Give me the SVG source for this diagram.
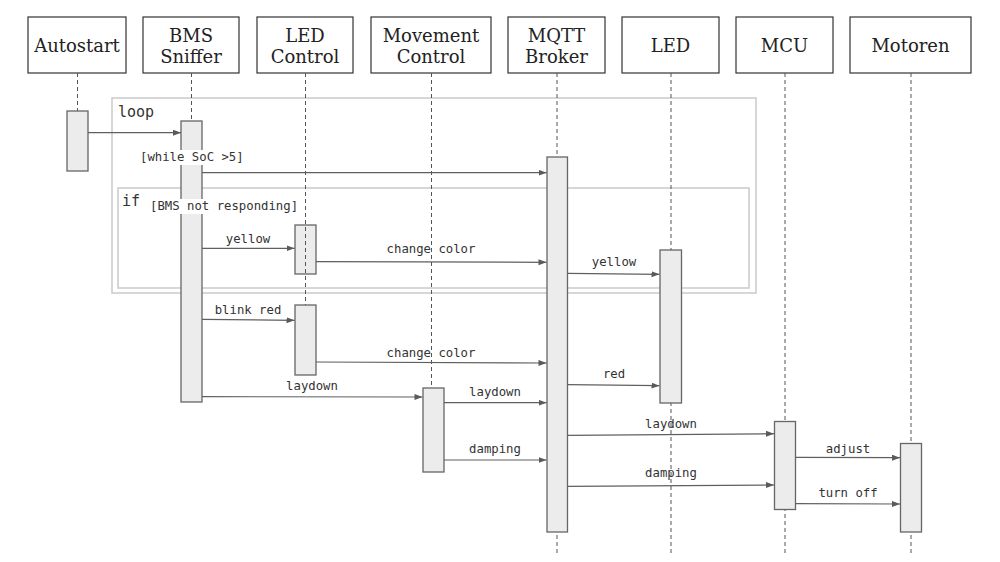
<svg xmlns="http://www.w3.org/2000/svg" width="1000" height="562" viewBox="0 0 1000 562">
<defs>
<marker id="arr" markerWidth="9" markerHeight="7" refX="8" refY="3" orient="auto" markerUnits="userSpaceOnUse">
<path d="M0,0 L8,3 L0,6 z" fill="#5a5a5a"/>
</marker>
<style>
.hdr{fill:#fff;stroke:#333;stroke-width:1.2}
.ht{font-family:"DejaVu Serif","Liberation Serif",serif;font-size:18px;fill:#222;text-anchor:middle}
.life{stroke:#555;stroke-width:1;stroke-dasharray:4 3;fill:none}
.bar{fill:#ececec;stroke:#666;stroke-width:1.3}
.frame{fill:none;stroke:#cdcdcd;stroke-width:1.6}
.fl{font-family:"DejaVu Sans Mono","Liberation Mono",monospace;font-size:15px;fill:#333}
.gd{font-family:"DejaVu Sans Mono","Liberation Mono",monospace;font-size:12.3px;fill:#333}
.msg{stroke:#5f5f5f;stroke-width:1.2;fill:none;marker-end:url(#arr)}
.ml{font-family:"DejaVu Sans Mono","Liberation Mono",monospace;font-size:12.3px;fill:#333;text-anchor:middle}
</style>
</defs>
<rect width="1000" height="562" fill="#fff"/>

<g id="frame-loop">
<rect class="frame" x="112" y="98" width="644" height="195"/>
<text class="fl" x="118" y="117">loop</text>
</g>
<g id="frame-if">
<rect class="frame" x="118" y="188" width="631" height="100"/>
<text class="fl" x="122" y="206">if</text>
</g>

<g id="autostart">
<rect class="hdr" x="28" y="17" width="98" height="56"/>
<text class="ht" x="77" y="52">Autostart</text>
<line class="life" x1="77.5" y1="73" x2="77.5" y2="111"/>
<rect class="bar" x="67" y="111" width="21" height="60"/>
</g>

<g id="bms-sniffer">
<rect class="hdr" x="143" y="17" width="96" height="56"/>
<text class="ht" x="191" y="42">BMS</text>
<text class="ht" x="191" y="63">Sniffer</text>
<line class="life" x1="191.5" y1="73" x2="191.5" y2="121"/>
<rect class="bar" x="181" y="121" width="21" height="281"/>
</g>

<g id="led-control">
<rect class="hdr" x="257" y="17" width="96" height="56"/>
<text class="ht" x="305" y="42">LED</text>
<text class="ht" x="305" y="63">Control</text>
<rect class="bar" x="295" y="225" width="21" height="49"/>
<line class="life" x1="305.5" y1="73" x2="305.5" y2="305"/>
<rect class="bar" x="295" y="305" width="21" height="70"/>
</g>

<g id="movement-control">
<rect class="hdr" x="371" y="17" width="120" height="56"/>
<text class="ht" x="431" y="42">Movement</text>
<text class="ht" x="431" y="63">Control</text>
<line class="life" x1="431.5" y1="73" x2="431.5" y2="388"/>
<rect class="bar" x="423" y="388" width="21" height="84"/>
</g>

<g id="mqtt-broker">
<rect class="hdr" x="508" y="17" width="97" height="56"/>
<text class="ht" x="556.5" y="42">MQTT</text>
<text class="ht" x="556.5" y="63">Broker</text>
<line class="life" x1="557" y1="73" x2="557" y2="555"/>
<rect class="bar" x="547" y="157" width="20.5" height="375"/>
</g>

<g id="led">
<rect class="hdr" x="622" y="17" width="97" height="56"/>
<text class="ht" x="670.5" y="52">LED</text>
<line class="life" x1="671" y1="73" x2="671" y2="555"/>
<rect class="bar" x="660" y="250" width="21.5" height="153"/>
</g>

<g id="mcu">
<rect class="hdr" x="736" y="17" width="97" height="56"/>
<text class="ht" x="784.5" y="52">MCU</text>
<line class="life" x1="785" y1="73" x2="785" y2="555"/>
<rect class="bar" x="774.5" y="421.5" width="21" height="88"/>
</g>

<g id="motoren">
<rect class="hdr" x="850" y="17" width="121" height="56"/>
<text class="ht" x="910.5" y="52">Motoren</text>
<line class="life" x1="911" y1="73" x2="911" y2="555"/>
<rect class="bar" x="900.5" y="443.5" width="21" height="88.5"/>
</g>

<g id="guards">
<rect x="139" y="150" width="105" height="15" fill="#fff"/>
<text class="gd" x="140" y="161">[while SoC &gt;5]</text>
<rect x="149" y="199" width="150" height="15" fill="#fff"/>
<text class="gd" x="150" y="210">[BMS not responding]</text>
</g>

<g id="connectors">
<line class="msg" x1="88" y1="132.7" x2="181" y2="132.7"/>
<line class="msg" x1="202" y1="172.7" x2="546.5" y2="172.7"/>
<line class="msg" x1="202" y1="248.3" x2="294.5" y2="248.3"/>
<text class="ml" x="248" y="243">yellow</text>
<line class="msg" x1="316" y1="261.7" x2="546.5" y2="262.3"/>
<text class="ml" x="431" y="253">change color</text>
<line class="msg" x1="567.5" y1="273.3" x2="659.5" y2="274.3"/>
<text class="ml" x="614" y="266">yellow</text>
<line class="msg" x1="202" y1="319.3" x2="294.5" y2="320.3"/>
<text class="ml" x="248" y="313.5">blink red</text>
<line class="msg" x1="316" y1="362" x2="546.5" y2="363"/>
<text class="ml" x="431" y="357">change color</text>
<line class="msg" x1="567.5" y1="384.7" x2="659.5" y2="385.7"/>
<text class="ml" x="614" y="377.5">red</text>
<line class="msg" x1="202" y1="396.7" x2="422.5" y2="397"/>
<text class="ml" x="312" y="389.5">laydown</text>
<line class="msg" x1="444" y1="402.7" x2="546.5" y2="402.7"/>
<text class="ml" x="495" y="395.5">laydown</text>
<line class="msg" x1="444" y1="460" x2="546.5" y2="460"/>
<text class="ml" x="495" y="453">damping</text>
<line class="msg" x1="567.5" y1="435.3" x2="774" y2="433.7"/>
<text class="ml" x="671" y="427.5">laydown</text>
<line class="msg" x1="567.5" y1="486.3" x2="774" y2="485"/>
<text class="ml" x="671" y="477">damping</text>
<line class="msg" x1="796" y1="457.3" x2="900" y2="457.7"/>
<text class="ml" x="848" y="453">adjust</text>
<line class="msg" x1="796" y1="503.7" x2="900" y2="504"/>
<text class="ml" x="848" y="497">turn off</text>
</g>
</svg>
